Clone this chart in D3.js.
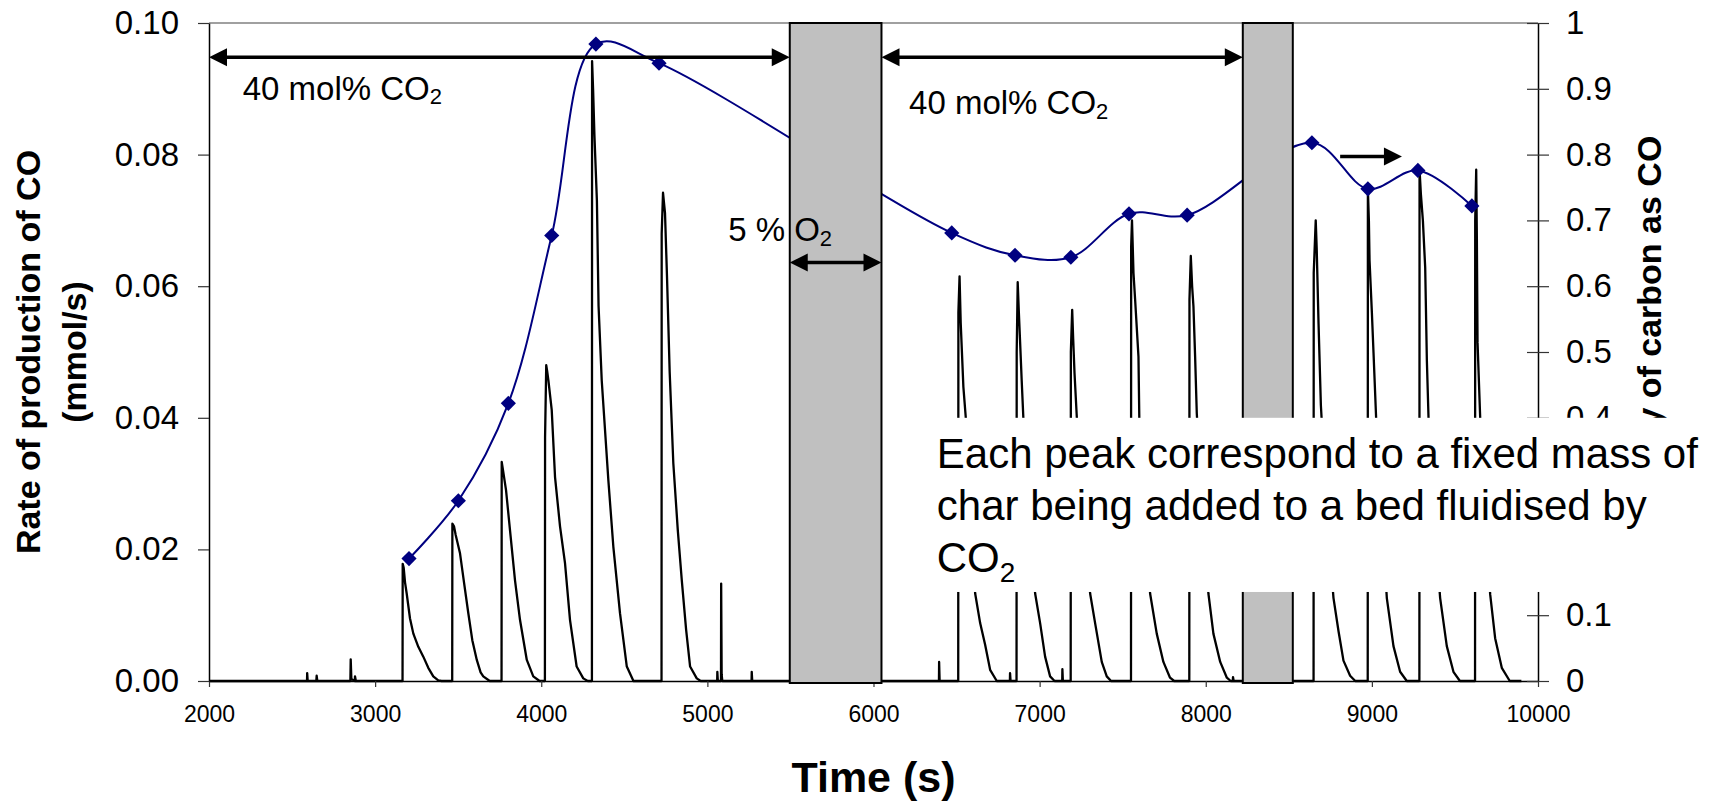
<!DOCTYPE html>
<html>
<head>
<meta charset="utf-8">
<script src="https://cdn.jsdelivr.net/npm/d3@7"></script>
<style>
body { margin: 0; background: #fff; }
svg { display: block; font-family: "Liberation Sans", Arial, sans-serif; }
</style>
</head>
<body>
<svg id="chart" width="1727" height="804"></svg>
<script>
// CO production rate trace (black), time in s, rate in mmol/s
var coTime = [2000, 2590, 2591, 2594, 2646, 2648, 2652, 2851, 2853, 2857, 2878, 2879, 2884,
  3165, 3166, 3172, 3180, 3190, 3210, 3230, 3260, 3290, 3320, 3350, 3380, 3400,
  3464, 3465, 3475, 3485, 3511, 3535, 3561, 3585, 3612, 3635, 3651, 3690,
  3761, 3762, 3770, 3788, 3812, 3842, 3872, 3913, 3952, 3990,
  4022, 4023, 4030, 4036, 4043, 4063, 4083, 4113, 4143, 4173, 4213, 4253, 4280,
  4305, 4306, 4312, 4320, 4335, 4345, 4364, 4404, 4434, 4474, 4515, 4555,
  4724, 4725, 4733, 4745, 4757, 4773, 4795, 4822, 4846, 4872, 4896, 4936, 4960,
  5059, 5060, 5063, 5082, 5083, 5086, 5090, 5266, 5267, 5270,
  6394, 6395, 6398,
  6510, 6511, 6518, 6525, 6541, 6555, 6585, 6612, 6642, 6672, 6702, 6742,
  6821, 6822, 6825,
  6861, 6862, 6868, 6875, 6882, 6892, 6902, 6940, 6973, 7003, 7033, 7063, 7090,
  7136, 7137, 7140,
  7187, 7188, 7196, 7202, 7210, 7224, 7265, 7304, 7334, 7374, 7404, 7430,
  7550, 7551, 7556, 7565, 7575, 7595, 7600, 7635, 7665, 7705, 7745, 7785, 7810,
  7901, 7902, 7910, 7918, 7926, 7936, 7946, 7980, 8016, 8046, 8087, 8127, 8150,
  8163, 8164, 8168,
  8649, 8650, 8662, 8668, 8679, 8693, 8730, 8769, 8799, 8829, 8869, 8900,
  8975, 8976, 8982, 8986, 9000, 9010, 9026, 9060, 9090, 9130, 9170, 9210,
  9286, 9287, 9295, 9307, 9321, 9331, 9341, 9375, 9411, 9451, 9491, 9530,
  9621, 9622, 9628, 9632, 9636, 9652, 9685, 9712, 9742, 9782, 9830, 9900];
var coRate = [0, 0, 0.0012, 0, 0, 0.0008, 0, 0, 0.0033, 0.0003, 0, 0.0007, 0,
  0, 0.0178, 0.0172, 0.0150, 0.0133, 0.0095, 0.0072, 0.0052, 0.0037, 0.0020, 0.0007, 0.0001, 0,
  0, 0.0239, 0.0235, 0.0222, 0.0194, 0.0150, 0.0103, 0.0062, 0.0032, 0.0013, 0.0007, 0,
  0, 0.0333, 0.0320, 0.0290, 0.0229, 0.0153, 0.0093, 0.0032, 0.0007, 0,
  0, 0.0370, 0.0480, 0.0470, 0.0457, 0.0412, 0.0310, 0.0235, 0.0179, 0.0093, 0.0022, 0.0004, 0,
  0, 0.0942, 0.0900, 0.0830, 0.0730, 0.0570, 0.0457, 0.0305, 0.0204, 0.0103, 0.0022, 0,
  0, 0.0680, 0.0742, 0.0711, 0.0614, 0.0470, 0.0331, 0.0229, 0.0153, 0.0078, 0.0022, 0.0004, 0,
  0, 0.0014, 0, 0, 0.0148, 0.0010, 0, 0, 0.0014, 0,
  0, 0.0029, 0,
  0, 0.0560, 0.0615, 0.0544, 0.0447, 0.0402, 0.0250, 0.0133, 0.0088, 0.0055, 0.0017, 0,
  0, 0.0012, 0,
  0, 0.0500, 0.0606, 0.0560, 0.0518, 0.0457, 0.0400, 0.0240, 0.0133, 0.0088, 0.0037, 0.0007, 0,
  0, 0.0018, 0,
  0, 0.0500, 0.0564, 0.0520, 0.0468, 0.0400, 0.0250, 0.0133, 0.0088, 0.0029, 0.0007, 0,
  0, 0.0660, 0.0700, 0.0620, 0.0579, 0.0493, 0.0400, 0.0250, 0.0133, 0.0072, 0.0029, 0.0005, 0,
  0, 0.0580, 0.0646, 0.0600, 0.0569, 0.0493, 0.0407, 0.0250, 0.0133, 0.0072, 0.0029, 0.0005, 0,
  0, 0.0006, 0,
  0, 0.0620, 0.0700, 0.0656, 0.0543, 0.0419, 0.0250, 0.0126, 0.0076, 0.0031, 0.0008, 0,
  0, 0.0746, 0.0700, 0.0639, 0.0560, 0.0498, 0.0397, 0.0250, 0.0126, 0.0053, 0.0014, 0,
  0, 0.0777, 0.0740, 0.0700, 0.0628, 0.0487, 0.0400, 0.0250, 0.0126, 0.0053, 0.0014, 0,
  0, 0.0700, 0.0777, 0.0673, 0.0515, 0.0400, 0.0250, 0.0132, 0.0065, 0.0020, 0, 0];

// efficiency of carbon as CO (blue diamonds, right axis)
var effTime = [3204, 3501, 3802, 4063, 4329, 4709, 6471, 6852, 7188, 7538, 7888, 8639, 8976, 9277, 9602];
var effValue = [0.186, 0.274, 0.422, 0.677, 0.968, 0.939, 0.681, 0.647, 0.644, 0.710, 0.708, 0.818, 0.748, 0.776, 0.722];

var xTicks = [2000, 3000, 4000, 5000, 6000, 7000, 8000, 9000, 10000];
var leftTicks = [0, 0.02, 0.04, 0.06, 0.08, 0.10];
var rightTicks = [0, 0.1, 0.2, 0.3, 0.4, 0.5, 0.6, 0.7, 0.8, 0.9, 1];

// 5 % O2 periods (grey bars)
var o2Start = [5496, 8223];
var o2End = [6048, 8524];

var svg = d3.select("#chart");
var plotL = 209, plotR = 1538, plotT = 23, plotB = 681;

var x = d3.scaleLinear().domain([2000, 10000]).range([plotL, plotR]);
var y = d3.scaleLinear().domain([0, 0.1]).range([plotB, plotT]);
var y2 = d3.scaleLinear().domain([0, 1]).range([plotB, plotT]);

// plot border on top
svg.append("line")
  .attr("x1", plotL).attr("x2", plotR).attr("y1", plotT).attr("y2", plotT)
  .attr("stroke", "#808080").attr("stroke-width", 1.5);

// black CO trace
var coPts = coTime.map(function(t, i) { return [t, coRate[i]]; });
svg.append("path")
  .datum(coPts)
  .attr("fill", "none")
  .attr("stroke", "#000")
  .attr("stroke-width", 2.3)
  .attr("stroke-linejoin", "round")
  .attr("d", d3.line().x(d => x(d[0])).y(d => y(d[1])));

// blue smoothed line + diamonds
var effPts = effTime.map(function(t, i) { return [t, effValue[i]]; });
svg.append("path")
  .datum(effPts)
  .attr("fill", "none")
  .attr("stroke", "#000080")
  .attr("stroke-width", 2)
  .attr("d", d3.line().curve(d3.curveCatmullRom.alpha(0.5)).x(d => x(d[0])).y(d => y2(d[1])));

svg.selectAll(".mk")
  .data(effPts)
  .enter().append("path")
  .attr("class", "mk")
  .attr("d", d3.symbol(d3.symbolSquare, 115))
  .attr("fill", "#000080")
  .attr("transform", d => "translate(" + x(d[0]) + "," + y2(d[1]) + ") rotate(45)");

// axes
function styleAxis(g, size) {
  g.attr("font-family", null).attr("font-size", null);
  g.select(".domain").attr("stroke", "#000").attr("stroke-width", 1.5);
  g.selectAll(".tick line").attr("stroke", "#333").attr("stroke-width", 1.2);
  g.selectAll(".tick text").style("font-size", size + "px").attr("fill", "#000");
}

var gx = svg.append("g")
  .attr("transform", "translate(0," + plotB + ")")
  .call(d3.axisBottom(x).tickValues(xTicks).tickSize(6).tickSizeOuter(0).tickPadding(19).tickFormat(d3.format("d")));
styleAxis(gx, 23);

var gy = svg.append("g")
  .attr("transform", "translate(" + plotL + ",0)")
  .call(d3.axisLeft(y).tickValues(leftTicks).tickSize(11).tickSizeOuter(0).tickPadding(19).tickFormat(d3.format(".2f")));
styleAxis(gy, 33);

var gy2 = svg.append("g")
  .attr("transform", "translate(" + plotR + ",0)")
  .call(d3.axisRight(y2).tickValues(rightTicks).tickSize(11).tickSizeOuter(0).tickPadding(17)
    .tickFormat(d => String(+d.toFixed(1))));
styleAxis(gy2, 33);
gy2.selectAll(".tick line").attr("x1", -11);

// axis titles
var lt = svg.append("text")
  .attr("transform", "translate(0," + ((plotT + plotB) / 2) + ") rotate(-90)")
  .attr("text-anchor", "middle")
  .attr("font-weight", "bold")
  .attr("font-size", 34);
lt.append("tspan").attr("x", 0).attr("y", 40).text("Rate of production of CO");
lt.append("tspan").attr("x", 0).attr("y", 86).text("(mmol/s)");

svg.append("text")
  .attr("transform", "translate(1661," + ((plotT + plotB) / 2) + ") rotate(-90)")
  .attr("text-anchor", "middle")
  .attr("font-weight", "bold")
  .attr("font-size", 34)
  .text("Efficiency of carbon as CO");

svg.append("text")
  .attr("x", (plotL + plotR) / 2).attr("y", 792)
  .attr("text-anchor", "middle")
  .attr("font-weight", "bold")
  .attr("font-size", 43)
  .text("Time (s)");

// grey O2 bars
o2Start.forEach(function(s, i) {
  svg.append("rect")
    .attr("x", x(s)).attr("y", y(0.1))
    .attr("width", x(o2End[i]) - x(s))
    .attr("height", y(0) - y(0.1) + 2)
    .attr("fill", "#c0c0c0")
    .attr("stroke", "#000")
    .attr("stroke-width", 2);
});

// arrows
function arrow(t1, t2, v, headL, headR) {
  var x1 = x(t1), x2 = x(t2), yy = y(v), L = 18, H = 9;
  svg.append("line")
    .attr("x1", headL ? x1 + L - 1 : x1).attr("x2", headR ? x2 - L + 1 : x2)
    .attr("y1", yy).attr("y2", yy)
    .attr("stroke", "#000").attr("stroke-width", 3.5);
  if (headL) svg.append("path").attr("fill", "#000")
    .attr("d", "M" + x1 + "," + yy + "L" + (x1 + L) + "," + (yy - H) + "L" + (x1 + L) + "," + (yy + H) + "Z");
  if (headR) svg.append("path").attr("fill", "#000")
    .attr("d", "M" + x2 + "," + yy + "L" + (x2 - L) + "," + (yy - H) + "L" + (x2 - L) + "," + (yy + H) + "Z");
}
arrow(2000, o2Start[0], 0.0948, true, true);
arrow(o2End[0], o2Start[1], 0.0948, true, true);
arrow(o2Start[0], o2End[0], 0.0636, true, true);
arrow(8809, 9181, 0.0797, false, true);

// labels with subscript
function subLabel(t, v, main, size, shift) {
  var tx = svg.append("text")
    .attr("x", x(t)).attr("y", y(v))
    .attr("font-size", size);
  tx.append("tspan").text(main);
  tx.append("tspan").attr("font-size", Math.round(size * 0.68)).attr("dy", shift).text("2");
}
subLabel(2203, 0.0883, "40 mol% CO", 33, 4);
subLabel(6214, 0.0862, "40 mol% CO", 33, 5);
subLabel(5125, 0.0668, "5 % O", 33, 5);

// white annotation box (covers part of the trace and the right axis)
var bx = x(6341);
svg.append("rect")
  .attr("x", bx).attr("y", y(0.04))
  .attr("width", 1727 - bx).attr("height", y(0.01353) - y(0.04))
  .attr("fill", "#fff");

var boxLines = ["Each peak correspond to a fixed mass of", "char being added to a bed fluidised by"];
boxLines.forEach(function(s, i) {
  svg.append("text")
    .attr("x", x(6381)).attr("y", 468 + i * 51.5)
    .attr("font-size", 42)
    .text(s);
});
var co = svg.append("text")
  .attr("x", x(6381)).attr("y", 571.5)
  .attr("font-size", 42);
co.append("tspan").text("CO");
co.append("tspan").attr("font-size", 28).attr("dy", 10).text("2");
</script>
</body>
</html>
